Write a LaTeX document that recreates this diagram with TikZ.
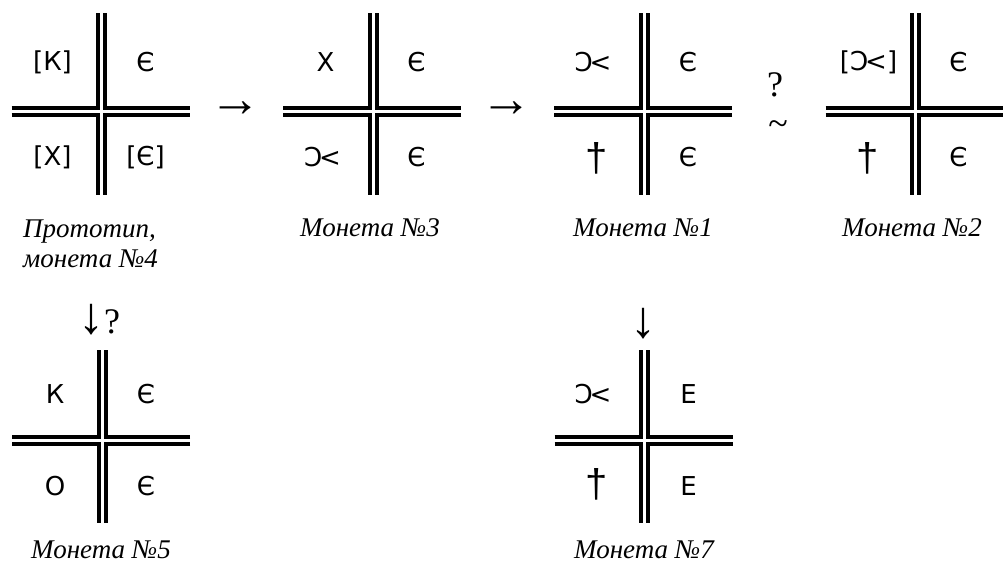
\documentclass[tikz,border=0pt]{standalone}
\usepackage{fontspec}
\setmainfont{Liberation Serif}
\newfontfamily\glyphs{DejaVu Sans}
\newfontfamily\crossfont{Liberation Sans}
\usetikzlibrary{positioning}
\newcommand{\fishsym}{Ͻ\kern-0.12em<}
\newcommand{\daggersym}{{\crossfont\fontsize{40}{44}\selectfont †}}

\begin{document}
\begin{tikzpicture}[x=1pt,y=-1pt,
    bar/.style={line width=4pt,line join=miter},
    sym/.style={font=\glyphs\fontsize{26}{30}\selectfont,inner sep=0pt},
    coincap/.style={font=\itshape\fontsize{27}{30}\selectfont,inner sep=0pt,align=left},
    op/.style={font=\fontsize{36}{40}\selectfont,inner sep=0pt},
    arrglyph/.style={font=\fontsize{52}{56}\selectfont,inner sep=0pt}]
    \useasboundingbox (0,0) rectangle (1003,565);
    % crosses: name / centre x / centre y / upper arm
    \foreach \n/\cx/\cy/\up in {c4/101.5/111.5/98.5, c3/373/111.5/98.5,
        c1/644/111.5/98.5, c2/915.5/111.5/98.5, c5/102/440/90, c7/644.5/440/90}{
      \coordinate (\n) at (\cx,\cy);
      \draw[bar] (\cx-90,\cy-3.5) -- (\cx-3.5,\cy-3.5) -- (\cx-3.5,\cy-\up);
      \draw[bar] (\cx+88,\cy-3.5) -- (\cx+3.5,\cy-3.5) -- (\cx+3.5,\cy-\up);
      \draw[bar] (\cx-90,\cy+3.5) -- (\cx-3.5,\cy+3.5) -- (\cx-3.5,\cy+83);
      \draw[bar] (\cx+88,\cy+3.5) -- (\cx+3.5,\cy+3.5) -- (\cx+3.5,\cy+83);
    }
    % prototype, coin 4
    \node[sym] (c4ul) at (52.5,62)  {[К]};
    \node[sym] (c4ur) at (145.5,62) {Є};
    \node[sym] (c4ll) at (52.5,157) {[X]};
    \node[sym] (c4lr) at (145.5,157) {[Є]};
    \node[coincap,anchor=base west] (t4) at (23,267) {Прототип,\\монета №4};
    \node[arrglyph] (a1) at (235.5,109) {→};
    % coin 3
    \node[sym] (c3ul) at (325.5,62)  {X};
    \node[sym] (c3ur) at (416.5,62)  {Є};
    \node[sym] (c3ll) at (322.5,157) {\fishsym};
    \node[sym] (c3lr) at (416.5,157) {Є};
    \node[coincap,anchor=base] (t3) at (370,236) {Монета №3};
    \node[arrglyph] (a2) at (506.5,109) {→};
    % coin 1
    \node[sym] (c1ul) at (593,62)  {\fishsym};
    \node[sym] (c1ur) at (688,62)  {Є};
    \node[sym] (c1ll) at (597,158) {\daggersym};
    \node[sym] (c1lr) at (688,157) {Є};
    \node[coincap,anchor=base] (t1) at (643,236) {Монета №1};
    \node[op] (q1) at (775,85)  {?};
    \node[op] (s1) at (778,128) {\char`\~};
    % coin 2
    \node[sym] (c2ul) at (868.5,62)  {[\fishsym]};
    \node[sym] (c2ur) at (958.5,62)  {Є};
    \node[sym] (c2ll) at (868,158) {\daggersym};
    \node[sym] (c2lr) at (958.5,157) {Є};
    \node[coincap,anchor=base] (t2) at (912,236) {Монета №2};
    % coin 5
    \node[op] (d5) at (99,320) {{\fontsize{52}{56}\selectfont↓}?};
    \node[sym] (c5ul) at (55,394.5) {К};
    \node[sym] (c5ur) at (146,394.5) {Є};
    \node[sym] (c5ll) at (55,486)   {O};
    \node[sym] (c5lr) at (146,486)  {Є};
    \node[coincap,anchor=base] (t5) at (101,558) {Монета №5};
    % coin 7
    \node[arrglyph] (d7) at (643,324) {↓};
    \node[sym] (c7ul) at (593,394.5) {\fishsym};
    \node[sym] (c7ur) at (688.5,394.5) {E};
    \node[sym] (c7ll) at (597,484) {\daggersym};
    \node[sym] (c7lr) at (688.5,486)  {E};
    \node[coincap,anchor=base] (t7) at (644,558) {Монета №7};
\end{tikzpicture}
\end{document}
